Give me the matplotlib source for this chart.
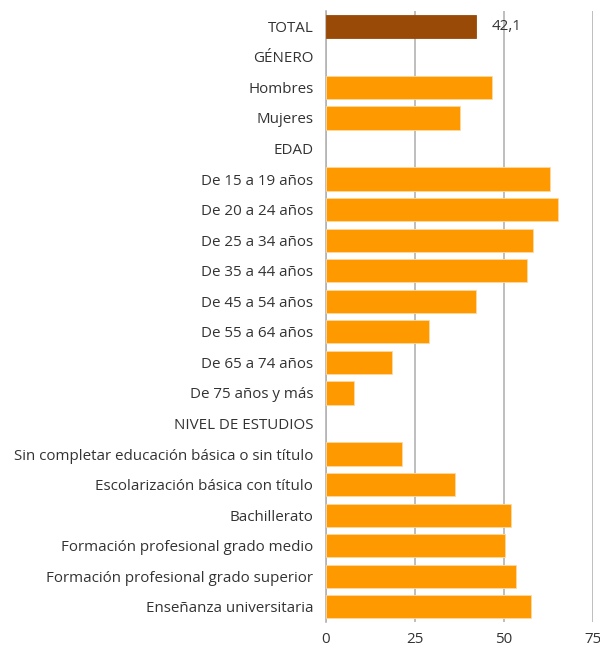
import matplotlib.pyplot as plt

# Categories (top to bottom) and values (%)
labels = [
    'TOTAL', 'GÉNERO', 'Hombres', 'Mujeres', 'EDAD',
    'De 15 a 19 años', 'De 20 a 24 años', 'De 25 a 34 años', 'De 35 a 44 años',
    'De 45 a 54 años', 'De 55 a 64 años', 'De 65 a 74 años', 'De 75 años y más',
    'NIVEL DE ESTUDIOS',
    'Sin completar educación básica o sin título',
    'Escolarización básica con título',
    'Bachillerato',
    'Formación profesional grado medio',
    'Formación profesional grado superior',
    'Enseñanza universitaria',
]
values = [42.1, None, 46.6, 37.8, None,
          63.1, 65.1, 58.2, 56.5, 42.2, 28.9, 18.5, 8.0,
          None,
          21.5, 36.4, 52.0, 50.3, 53.5, 57.6]
total_label = '42,1'
x_ticks = [0, 25, 50, 75]

plt.rcParams['font.family'] = ['Open Sans', 'DejaVu Sans']
text_color = '#333333'
fs = 10.9

fig = plt.figure(figsize=(6, 6.48), dpi=100)
ax = fig.add_axes([0.543, 0.040, 0.445, 0.943])

for i, v in enumerate(values):
    if v is None:
        continue
    color = '#994a06' if i == 0 else '#ff9900'
    ax.barh(i, v, height=0.76, color=color, edgecolor='#ffd9a0' if i else color,
            linewidth=0.6, zorder=3)

ax.text(values[0] + 4.6, 0, total_label, va='center', ha='left',
        fontsize=fs, color=text_color, zorder=4)

ax.set_xlim(0, 75)
ax.set_ylim(19.5, -0.5)
ax.set_yticks(range(len(labels)))
ax.set_yticklabels(labels, fontsize=fs, color=text_color)
ax.set_xticks(x_ticks)
ax.set_xticklabels([str(t) for t in x_ticks], fontsize=fs, color=text_color)
ax.tick_params(axis='y', length=0, pad=9)
ax.tick_params(axis='x', length=0, pad=7)

ax.grid(axis='x', color='#b3b3b3', linewidth=1.2, zorder=0)
for s in ['top', 'right', 'bottom']:
    ax.spines[s].set_visible(False)
ax.spines['left'].set_color('#b3b3b3')
ax.spines['left'].set_linewidth(1.2)

fig.savefig('out.png', dpi=100)
